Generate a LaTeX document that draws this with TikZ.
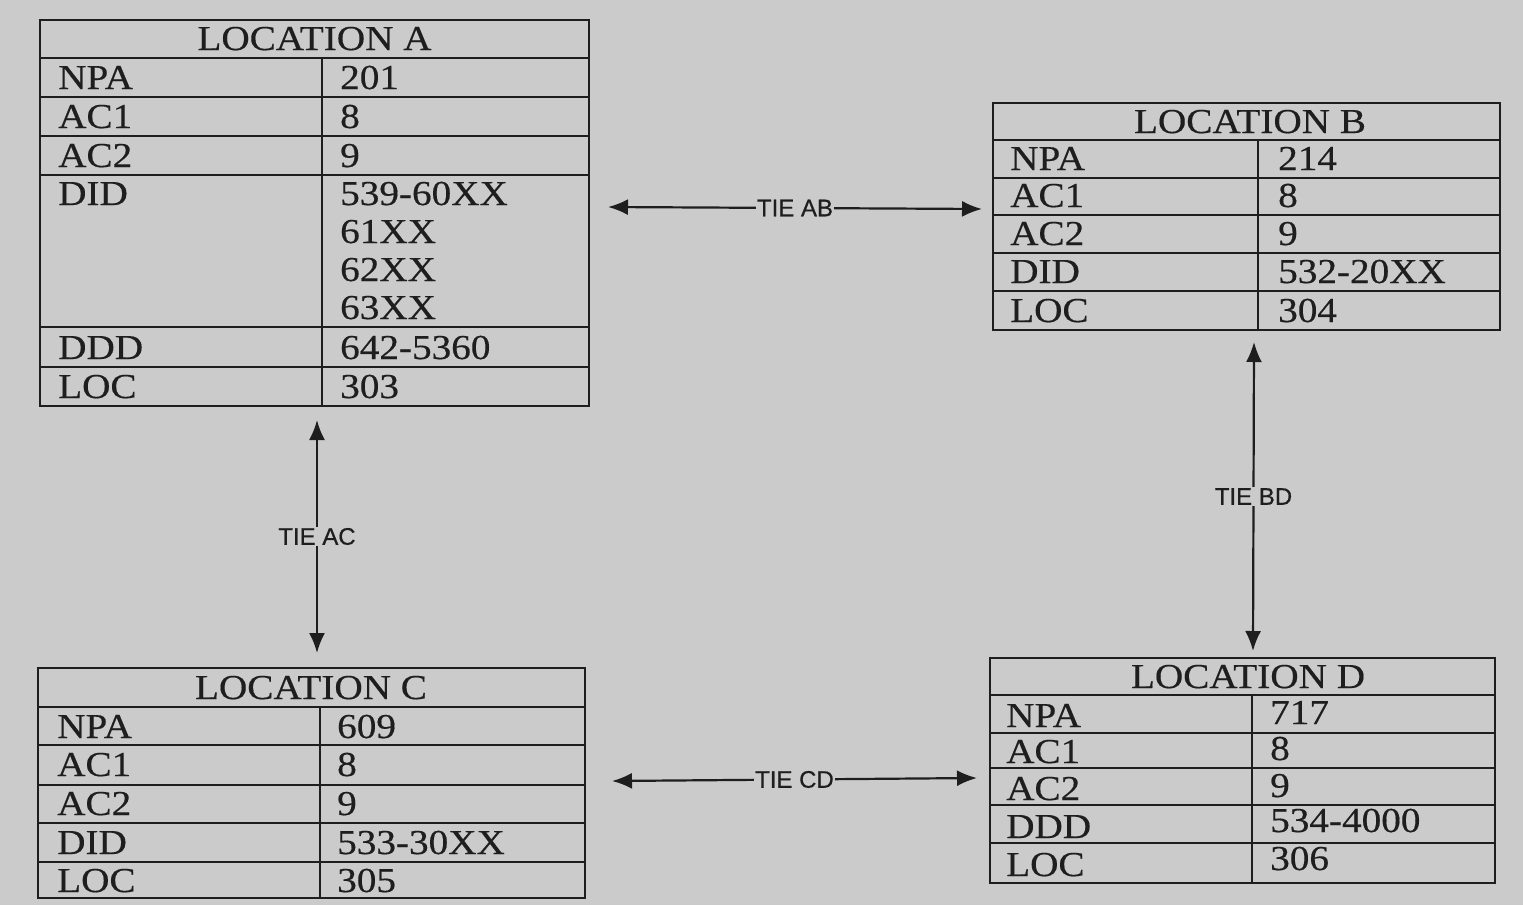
\documentclass[tikz,border=0pt]{standalone}
\usepackage{fontspec}
\setmainfont{Liberation Serif}[FakeStretch=1.12,FakeBold=0.4]
\newfontfamily\tiefont{Liberation Sans}[FakeBold=0.5]
\usetikzlibrary{arrows.meta}
\definecolor{bg}{RGB}{203,203,203}
\definecolor{ink}{RGB}{30,30,30}
\begin{document}
\begin{tikzpicture}[x=1pt,y=-1pt,
  cell/.style={anchor=base west,inner sep=0pt,font=\fontsize{35}{40}\selectfont,text=ink},
  head/.style={anchor=base,inner sep=0pt,font=\fontsize{35}{40}\selectfont,text=ink},
  grid/.style={draw=ink,line width=2.4pt},
  tie/.style={draw=ink,line width=2.2pt,{Latex[length=20pt,width=16pt]}-{Latex[length=20pt,width=16pt]}},
  tielabel/.style={fill=bg,inner sep=1pt,font=\tiefont\fontsize{24}{28}\selectfont,text=ink}]
\fill[bg] (0,0) rectangle (1523,905);
\useasboundingbox (0,0) rectangle (1523,905);

% ---- Location A
\draw[grid] (40,20) rectangle (589,406);
\foreach \yy in {58,97,136,175,327,367} \draw[grid] (40,\yy) -- (589,\yy);
\draw[grid] (322,58) -- (322,406);
\node[head] (hA) at (314.5,50) {LOCATION A};
\node[cell] (aNPA) at (58,89) {NPA};   \node[cell] (aNPAv) at (340,89) {201};
\node[cell] (aAC1) at (58,128) {AC1};  \node[cell] (aAC1v) at (340,128) {8};
\node[cell] (aAC2) at (58,167) {AC2};  \node[cell] (aAC2v) at (340,167) {9};
\node[cell] (aDID) at (58,205) {DID};  \node[cell] (aDIDv1) at (340,205) {539-60XX};
\node[cell] (aDIDv2) at (340,243) {61XX};
\node[cell] (aDIDv3) at (340,281) {62XX};
\node[cell] (aDIDv4) at (340,319) {63XX};
\node[cell] (aDDD) at (58,359) {DDD};  \node[cell] (aDDDv) at (340,359) {642-5360};
\node[cell] (aLOC) at (58,398) {LOC};  \node[cell] (aLOCv) at (340,398) {303};

% ---- Location B
\draw[grid] (993,103) rectangle (1500,330);
\foreach \yy in {140,178,215,253,291} \draw[grid] (993,\yy) -- (1500,\yy);
\draw[grid] (1258,140) -- (1258,330);
\node[head] (hB) at (1250,133) {LOCATION B};
\node[cell] (bNPA) at (1010,170) {NPA};  \node[cell] (bNPAv) at (1278,170) {214};
\node[cell] (bAC1) at (1010,207) {AC1};  \node[cell] (bAC1v) at (1278,207) {8};
\node[cell] (bAC2) at (1010,245) {AC2};  \node[cell] (bAC2v) at (1278,245) {9};
\node[cell] (bDID) at (1010,283) {DID};  \node[cell] (bDIDv) at (1278,283) {532-20XX};
\node[cell] (bLOC) at (1010,322) {LOC};  \node[cell] (bLOCv) at (1278,322) {304};

% ---- Location C
\draw[grid] (38,668) rectangle (585,898);
\foreach \yy in {707,745,785,823,862} \draw[grid] (38,\yy) -- (585,\yy);
\draw[grid] (320,707) -- (320,898);
\node[head] (hC) at (311,699) {LOCATION C};
\node[cell] (cNPA) at (57,738) {NPA};  \node[cell] (cNPAv) at (337,738) {609};
\node[cell] (cAC1) at (57,776) {AC1};  \node[cell] (cAC1v) at (337,776) {8};
\node[cell] (cAC2) at (57,815) {AC2};  \node[cell] (cAC2v) at (337,815) {9};
\node[cell] (cDID) at (57,854) {DID};  \node[cell] (cDIDv) at (337,854) {533-30XX};
\node[cell] (cLOC) at (57,892) {LOC};  \node[cell] (cLOCv) at (337,892) {305};

% ---- Location D
\draw[grid] (990,658) rectangle (1495,883);
\foreach \yy in {695,733,768,805,843} \draw[grid] (990,\yy) -- (1495,\yy);
\draw[grid] (1252,695) -- (1252,883);
\node[head] (hD) at (1248,688) {LOCATION D};
\node[cell] (dNPA) at (1006,727) {NPA};  \node[cell] (dNPAv) at (1270,724) {717};
\node[cell] (dAC1) at (1006,763) {AC1};  \node[cell] (dAC1v) at (1270,760) {8};
\node[cell] (dAC2) at (1006,800) {AC2};  \node[cell] (dAC2v) at (1270,797) {9};
\node[cell] (dDDD) at (1006,838) {DDD};  \node[cell] (dDDDv) at (1270,832) {534-4000};
\node[cell] (dLOC) at (1006,876) {LOC};  \node[cell] (dLOCv) at (1270,870) {306};

% ---- Ties
\coordinate (abL) at (608,207);
\coordinate (abR) at (982,209);
\coordinate (acT) at (317,420);
\coordinate (acB) at (317,653);
\coordinate (bdT) at (1254,342);
\coordinate (bdB) at (1253,651);
\coordinate (cdL) at (612,781);
\coordinate (cdR) at (977,778);
\draw[tie] (abL) -- node[tielabel] (tAB) {TIE AB} (abR);
\draw[tie] (acT) -- node[tielabel] (tAC) {TIE AC} (acB);
\draw[tie] (bdT) -- node[tielabel] (tBD) {TIE BD} (bdB);
\draw[tie] (cdL) -- node[tielabel] (tCD) {TIE CD} (cdR);
\end{tikzpicture}
\end{document}
